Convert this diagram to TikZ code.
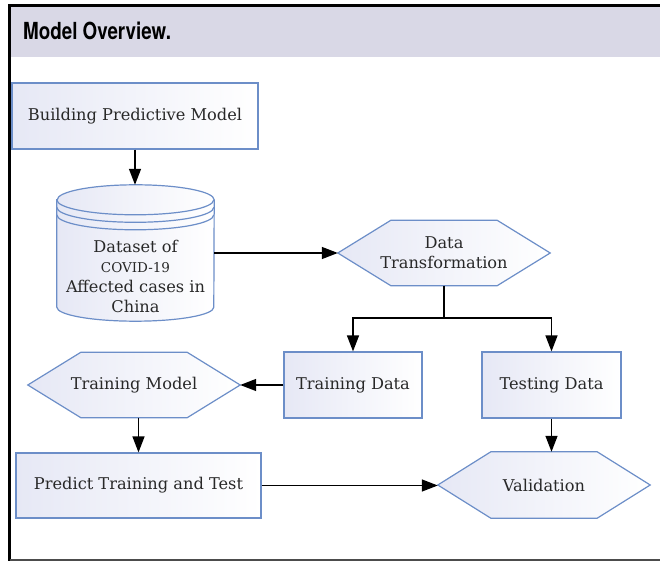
\documentclass[tikz,border=0pt]{standalone}
\usepackage{fontspec}
\setmainfont{DejaVu Serif}
\newfontfamily\headfont[FakeStretch=0.8]{TeX Gyre Heros}
\usetikzlibrary{positioning,arrows.meta,calc,backgrounds}
\definecolor{headbg}{RGB}{217,216,230}
\definecolor{edgeblue}{RGB}{108,142,200}
\definecolor{shadelav}{RGB}{230,232,245}
\definecolor{inkgrey}{RGB}{40,40,40}

\begin{document}
\begin{tikzpicture}[x=1pt,y=1pt,
  box/.style={rectangle,draw=edgeblue,line width=1.2pt,left color=shadelav,right color=white,
              text=inkgrey,minimum width=#1,minimum height=66pt,inner sep=0pt,
              font=\fontsize{16.2}{20}\selectfont,align=center},
  hexa/.style={rectangle,minimum width=212pt,minimum height=65pt,inner sep=0pt,
               text=inkgrey,font=\fontsize{16.2}{20}\selectfont,align=center},
  hexline/.style={draw=edgeblue,line width=1.2pt,left color=shadelav,right color=white},
  flow/.style={-{Triangle[length=16pt,width=12pt]},line width=1.4pt,black}
]
\useasboundingbox (0,0) rectangle (660,561);

% caption bar and frame
\fill[headbg] (11,504) rectangle (660,554);
\draw[line width=3pt] (660,555.5) -- (9.5,555.5) -- (9.5,0);
\draw[line width=1.2pt,black!70] (9.5,1) -- (660,1);
\node[anchor=base west,inner sep=0pt,font=\headfont\bfseries\fontsize{23.5}{28}\selectfont] (title)
  at (23,521.7) {Model Overview.};

% steps
\node[box=246pt] (build) at (135,445) {Building Predictive Model};
\node[rectangle,minimum width=157pt,minimum height=136pt] (data) at (135.5,308) {};
\node[text=inkgrey,align=center,font=\fontsize{16.2}{20}\selectfont] (datalbl) at (135.5,284.5)
  {Dataset of\\{\fontsize{13.5}{20}\selectfont COVID-19}\\Affected cases in\\China};
\node[hexa] (trans) at (444,308) {Data\\Transformation};
\node[box=138pt] (traind) at (353,176) {Training Data};
\node[box=139pt] (testd) at (551.5,176) {Testing Data};
\node[hexa] (trainm) at (134,176) {Training Model};
\node[box=245pt,minimum height=65pt] (predict) at (138.5,75.5) {Predict Training and Test};
\node[hexa,minimum height=66pt] (valid) at (544,76) {Validation};

\begin{scope}[on background layer]
  \foreach \n in {trans,trainm,valid}
    \draw[hexline] (\n.west) -- ([xshift=53pt]\n.north west) -- ([xshift=-53pt]\n.north east)
      -- (\n.east) -- ([xshift=-53pt]\n.south east) -- ([xshift=53pt]\n.south west) -- cycle;
  % database drum
  \draw[hexline] ([yshift=-15pt]data.north west) -- ([yshift=14pt]data.south west)
    arc[start angle=180,end angle=360,x radius=78.5pt,y radius=14pt]
    -- ([yshift=-15pt]data.north east)
    arc[start angle=0,end angle=180,x radius=78.5pt,y radius=15pt] -- cycle;
  \foreach \d in {15,22.5,30}
    \draw[draw=edgeblue,line width=1.2pt] ([yshift=-\d pt]data.north west)
      arc[start angle=180,end angle=360,x radius=78.5pt,y radius=15pt];
\end{scope}

% arrows
\coordinate (split) at (444,243);
\draw[flow] (build.south) -- (build.south |- data.north);
\draw[flow] (data.east) -- (trans.west);
\draw[line width=1.4pt] (trans.south) -- (split);
\draw[flow] (split) -| (traind);
\draw[flow] (split) -| (testd);
\draw[flow] (traind.west) -- (trainm.east);
\draw[flow] (predict.north |- trainm.south) -- (predict.north);
\draw[flow] (testd.south) -- (testd.south |- valid.north);
\draw[flow] (predict.east) -- (predict.east -| valid.west);
\end{tikzpicture}
\end{document}
